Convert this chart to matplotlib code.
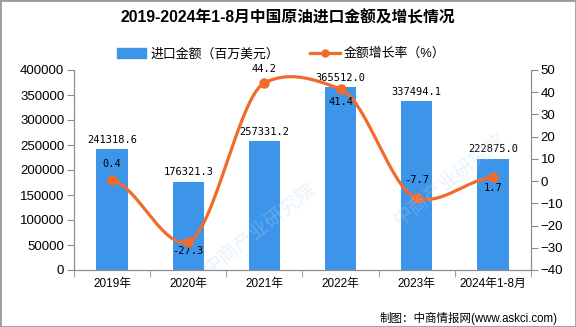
"""Crude oil import value chart, 2019-2024 Jan-Aug."""

import numpy as np
from matplotlib import pyplot as plt
from matplotlib.lines import Line2D
from matplotlib.patches import Patch, Rectangle

plt.rcParams["font.family"] = ["Liberation Sans", "Noto Sans CJK SC", "DejaVu Sans"]

years = ["2019年", "2020年", "2021年", "2022年", "2023年", "2024年1-8月"]
import_value = [241318.6, 176321.3, 257331.2, 365512.0, 337494.1, 222875.0]
growth_rate = [0.4, -27.3, 44.2, 41.4, -7.7, 1.7]

BAR_COLOR = "#3d95e9"
LINE_COLOR = "#f26a2c"
SPINE_COLOR = "#8c8c8c"


def smooth_curve(y, k=0.5, n=40):
    """Cardinal spline through the points, drawn at integer x positions."""
    y = np.asarray(y, dtype=float)
    m = np.zeros_like(y)
    m[1:-1] = (y[2:] - y[:-2]) * k
    m[0] = (y[1] - y[0]) * k
    m[-1] = (y[-1] - y[-2]) * k
    xs, ys = [], []
    for i in range(len(y) - 1):
        t = np.linspace(0, 1, n)
        h00 = 2 * t**3 - 3 * t**2 + 1
        h10 = t**3 - 2 * t**2 + t
        h01 = -2 * t**3 + 3 * t**2
        h11 = t**3 - t**2
        xs.append(i + t)
        ys.append(h00 * y[i] + h10 * m[i] * 0.5 + h01 * y[i + 1] + h11 * m[i + 1] * 0.5)
    return np.concatenate(xs), np.concatenate(ys)


fig = plt.figure(figsize=(5.76, 3.27), dpi=100)
ax = fig.add_axes([74 / 576, 57 / 327, 457 / 576, 200 / 327])
ax2 = ax.twinx()

# watermark
for wx, wy in [(0.45, 0.3), (0.78, 0.45)]:
    fig.text(wx, wy, "中商产业研究院", rotation=38, ha="center", va="center",
             fontsize=14, color="#b5d3ee", alpha=0.3, zorder=0)

x = np.arange(len(years))
ax.bar(x, import_value, width=0.41, color=BAR_COLOR, zorder=2)
for xi, v in zip(x, import_value):
    ax.annotate(f"{v:.1f}", (xi, v), xytext=(0, 7), textcoords="offset points",
                ha="center", va="center", fontsize=7.5, family="DejaVu Sans Mono")

cx, cy = smooth_curve(growth_rate)
ax2.plot(cx, cy, color=LINE_COLOR, lw=2.3, solid_capstyle="round", zorder=3)
ax2.plot(x, growth_rate, "o", color=LINE_COLOR, ms=6.5, zorder=4)
label_offsets = [12, -7, 10, -9, 13, -8]
for xi, v, off in zip(x, growth_rate, label_offsets):
    ax2.annotate(f"{v:.1f}", (xi, v), xytext=(0, off), textcoords="offset points",
                 ha="center", va="center", fontsize=7.5, family="DejaVu Sans Mono")

# axes
ax.set_xlim(-0.5, len(years) - 0.5)
ax.set_ylim(0, 400000)
ax.set_yticks(np.arange(0, 400001, 50000))
ax2.set_ylim(-40, 50)
ax2.set_yticks(np.arange(-40, 51, 10))
ax.set_xticks(x)
ax.set_xticklabels(years, fontsize=8.5)
ax.set_xticks(np.arange(-0.5, len(years), 1), minor=True)
ax.tick_params(axis="x", which="major", length=0, pad=6)
ax.tick_params(axis="x", which="minor", length=5, color=SPINE_COLOR)
ax.tick_params(axis="y", labelsize=9.5, length=5, color=SPINE_COLOR, pad=2)
ax2.tick_params(axis="y", labelsize=9.5, length=5, color=SPINE_COLOR, pad=2)
for a in (ax, ax2):
    a.spines["top"].set_visible(False)
    for s in ("left", "right", "bottom"):
        a.spines[s].set_color(SPINE_COLOR)

# title, legend, source
fig.text(0.5, 1 - 18 / 327, "2019-2024年1-8月中国原油进口金额及增长情况",
         ha="center", va="center", fontsize=11.3, fontweight="bold")
handles = [
    Patch(color=BAR_COLOR, label="进口金额（百万美元）"),
    Line2D([], [], color=LINE_COLOR, lw=2.3, marker="o", ms=5, label="金额增长率（%）"),
]
fig.legend(handles=handles, loc="center", bbox_to_anchor=(281 / 576, 1 - 54 / 327),
           ncol=2, frameon=False, fontsize=9.3, handlelength=2.3, handleheight=0.8,
           handletextpad=0.3, columnspacing=2.4)
fig.text(558 / 576, 1 - 318 / 327, "制图：中商情报网(www.askci.com)",
         ha="right", va="center", fontsize=8.3)

fig.patches.append(Rectangle((0, 0), 1, 1, transform=fig.transFigure, fill=False,
                             edgecolor="#9a9a9a", lw=2))

fig.savefig("out.png", dpi=100)
